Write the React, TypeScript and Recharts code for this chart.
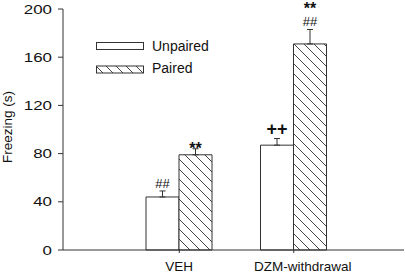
import React from "react";
import {
  BarChart,
  Bar,
  XAxis,
  YAxis,
  ErrorBar,
  LabelList,
  Legend,
  Label,
} from "recharts";

const categories = ["VEH", "DZM-withdrawal"];
const unpaired = [44, 87];
const paired = [79, 171];
const unpairedErr = [5, 5.5];
const pairedErr = [5, 12];
const unpairedMarks = ["##", "++"];
const pairedMarks = [["**"], ["##", "**"]];
const yTicks = [0, 40, 80, 120, 160, 200];

const FONT = "'Liberation Sans', Arial, sans-serif";
const INK = "#333";
const TEXT = "#111";

const data = categories.map((name, i) => ({
  name,
  unpaired: unpaired[i],
  paired: paired[i],
  uErr: [0, unpairedErr[i]],
  pErr: [0, pairedErr[i]],
  uMark: unpairedMarks[i],
  pMark: pairedMarks[i].join("|"),
}));

// style for each significance mark
function markStyle(mark: string) {
  if (mark === "##") return { fontSize: 13, fontWeight: 400 };
  if (mark === "**") return { fontSize: 16, fontWeight: 700 };
  return { fontSize: 18, fontWeight: 700 };
}

function makeMarkRenderer(values: number[], errs: number[]) {
  return (props: any) => {
    const { x, y, width, height, value, index } = props;
    if (!value) return null;
    const perUnit = height / values[index];
    const errTop = y - errs[index] * perUnit;
    const cx = x + width / 2;
    const marks = String(value).split("|");
    return (
      <g>
        {marks.map((m, k) => {
          let base = errTop - 4;
          if (m === "##") base = errTop - 3;
          if (m === "**") base = k === 0 ? errTop + 5 : errTop - 15;
          return (
            <text
              key={k}
              x={cx}
              y={base}
              textAnchor="middle"
              fill={TEXT}
              fontFamily={FONT}
              {...markStyle(m)}
            >
              {m}
            </text>
          );
        })}
      </g>
    );
  };
}

function YTick(props: any) {
  const { x, y, payload } = props;
  return (
    <text
      x={x}
      y={y}
      dy="0.355em"
      textAnchor="end"
      fontSize={13}
      fontFamily={FONT}
      fill={TEXT}
      transform={`translate(${x},0) scale(1.3,1) translate(${-x},0)`}
    >
      {payload.value}
    </text>
  );
}

function XTick(props: any) {
  const { x, y, payload, index } = props;
  const shift = index === 1 ? 9 : 0;
  return (
    <text
      x={x + shift}
      y={y}
      dy="0.71em"
      textAnchor="middle"
      fontSize={13.5}
      fontFamily={FONT}
      fill={TEXT}
    >
      {payload.value}
    </text>
  );
}

function hatchPattern(id: string, size: number) {
  return (
    <pattern id={id} patternUnits="userSpaceOnUse" width={size} height={size}>
      <rect width={size} height={size} fill="#fff" />
      <path
        d={`M0,0 L${size},${size} M${size - 1},-1 L${size + 1},1 M-1,${size - 1} L1,${size + 1}`}
        stroke="#444"
        strokeWidth={1}
      />
    </pattern>
  );
}

function LegendBox() {
  return (
    <svg width={240} height={90} style={{ display: "block" }}>
      <defs>{hatchPattern("legendHatch", 10)}</defs>
      <rect x={96.5} y={42.5} width={47} height={7} fill="#fff" stroke={INK} />
      <text x={152} y={50.5} fontSize={14} fontFamily={FONT} fill={TEXT}>
        Unpaired
      </text>
      <rect
        x={96.5}
        y={66}
        width={47}
        height={7}
        fill="url(#legendHatch)"
        stroke={INK}
      />
      <text x={152} y={73} fontSize={14} fontFamily={FONT} fill={TEXT}>
        Paired
      </text>
    </svg>
  );
}

export default function App() {
  return (
    <div style={{ width: 405, height: 273, background: "#fff" }}>
      <style>{"body{margin:0}"}</style>
      <BarChart
        width={405}
        height={273}
        data={data}
        margin={{ top: 9, right: 1, bottom: 3, left: 3 }}
        barGap={0}
        barSize={33}
      >
        <defs>{hatchPattern("barHatch", 10)}</defs>
        <XAxis
          dataKey="name"
          height={20}
          padding={{ left: 59, right: 53 }}
          axisLine={{ stroke: INK }}
          tickLine={{ stroke: INK }}
          tickSize={3}
          tickMargin={8}
          tick={<XTick />}
        />
        <YAxis
          width={60}
          domain={[0, 200]}
          ticks={yTicks}
          interval={0}
          axisLine={{ stroke: INK }}
          tickLine={{ stroke: INK }}
          tickSize={5}
          tickMargin={6}
          tick={<YTick />}
        >
          <Label
            content={() => (
              <text
                x={12}
                y={127}
                transform="rotate(-90, 12, 127)"
                textAnchor="middle"
                fontSize={13.5}
                fontFamily={FONT}
                fill={TEXT}
              >
                Freezing (s)
              </text>
            )}
          />
        </YAxis>
        <Legend
          layout="vertical"
          align="center"
          verticalAlign="middle"
          wrapperStyle={{ position: "absolute", left: 0, top: 0, width: 240 }}
          content={() => <LegendBox />}
        />
        <Bar
          dataKey="unpaired"
          fill="#fff"
          stroke={INK}
          strokeWidth={1}
          isAnimationActive={false}
        >
          <ErrorBar dataKey="uErr" width={3} stroke={INK} strokeWidth={1} />
          <LabelList
            dataKey="uMark"
            content={makeMarkRenderer(unpaired, unpairedErr)}
          />
        </Bar>
        <Bar
          dataKey="paired"
          fill="url(#barHatch)"
          stroke={INK}
          strokeWidth={1}
          isAnimationActive={false}
        >
          <ErrorBar dataKey="pErr" width={3} stroke={INK} strokeWidth={1} />
          <LabelList
            dataKey="pMark"
            content={makeMarkRenderer(paired, pairedErr)}
          />
        </Bar>
      </BarChart>
    </div>
  );
}
